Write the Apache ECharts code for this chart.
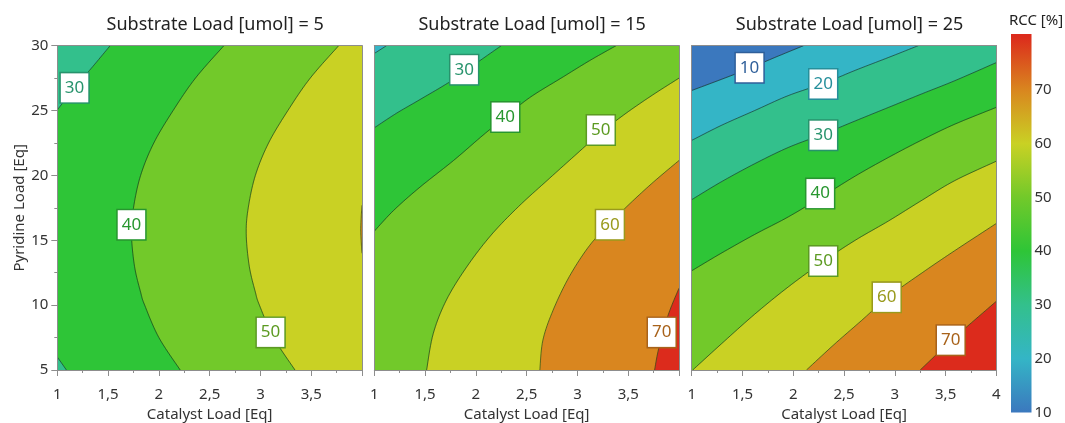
<!DOCTYPE html>
<html><head><meta charset="utf-8">
<script src="https://cdn.jsdelivr.net/npm/echarts@6/dist/echarts.min.js"></script>
<style>html,body{margin:0;padding:0;background:#fff}#c{width:1065px;height:423px}</style>
</head><body><div id="c"></div>
<script>
// ---------------- data ----------------
const panelTitles = ['Substrate Load [umol] = 5', 'Substrate Load [umol] = 15', 'Substrate Load [umol] = 25'];
const xName = 'Catalyst Load [Eq]';
const yName = 'Pyridine Load [Eq]';
const cbName = 'RCC [%]';
const cbTicks = [10, 20, 30, 40, 50, 60, 70];
const cbRange = [10, 80.4];
// colour of band (L-10, L] indexed by L/10 - 1 ; also colour-bar stops at 10..80
const bandColors = ['#3b78be', '#34b5c6', '#33c08c', '#2ec537', '#72c92a', '#c9d124', '#d9861f', '#dc2b1c'];
const labelColors = {10: '#2f5f9a', 20: '#258f9b', 30: '#27936c', 40: '#27962f', 50: '#5c9a22', 60: '#999a1c', 70: '#a8621a'};

// contour lines, [catalyst, pyridine]
const p1_30a = [[1, 25.05], [1.17, 26.75], [1.35, 28.4], [1.52, 30]];
const p1_30b = [[1, 6.0], [1.09, 5]];
const p1_40 = [[2.64, 30], [2.36, 27.5], [2.14, 25], [1.95, 22.5], [1.82, 20], [1.75, 17.5], [1.73, 15.5], [1.76, 13], [1.82, 11], [1.86, 10], [2.0, 7.5], [2.21, 5]];
const p1_50 = [[3.77, 30], [3.49, 27.5], [3.27, 25], [3.08, 22.5], [2.95, 20], [2.88, 17.5], [2.86, 15.5], [2.89, 13], [2.95, 11], [2.99, 10], [3.13, 7.5], [3.34, 5]];
const p1_60 = [[4, 17.7], [3.993, 16.9], [3.988, 15.8], [3.993, 14.8], [4, 14.0]];

const p2_20 = [[1, 29.4], [1.12, 30]];
const p2_30 = [[1, 23.67], [1.22, 24.8], [1.45, 25.85], [1.76, 27.3], [2.04, 28.85], [2.25, 30]];
const p2_40 = [[1, 15.7], [1.19, 17.3], [1.45, 19.1], [1.78, 21.15], [2.07, 23.1], [2.29, 24.5], [2.53, 26.0], [2.86, 27.6], [3.12, 28.85], [3.38, 30]];
const p2_50 = [[1.515, 5], [1.58, 7.8], [1.71, 10.4], [1.91, 12.95], [2.15, 15.4], [2.42, 17.6], [2.70, 19.6], [2.97, 21.5], [3.23, 23.3], [3.48, 24.8], [3.74, 26.2], [4, 27.5]];
const p2_60 = [[2.63, 5], [2.66, 7.3], [2.76, 9.6], [2.92, 12.2], [3.12, 14.6], [3.32, 16.3], [3.52, 17.85], [3.75, 19.5], [4, 21.15]];
const p2_70 = [[3.76, 5], [3.79, 6.3], [3.84, 7.9], [3.91, 9.6], [4, 11.3]];

const p3_10 = [[1, 26.55], [1.29, 27.4], [1.57, 28.25], [1.79, 29.0], [2.10, 30]];
const p3_20 = [[1, 22.7], [1.29, 23.85], [1.62, 25.0], [1.95, 26.15], [2.30, 27.1], [2.61, 28.1], [2.94, 29.1], [3.23, 30]];
const p3_30 = [[1, 18.13], [1.29, 19.5], [1.62, 20.9], [1.95, 22.15], [2.30, 23.2], [2.61, 24.2], [2.94, 25.25], [3.27, 26.3], [3.59, 27.3], [4, 28.7]];
const p3_40 = [[1, 12.65], [1.29, 14.0], [1.62, 15.45], [1.95, 16.8], [2.27, 18.3], [2.61, 19.95], [2.94, 21.4], [3.27, 22.75], [3.59, 23.95], [4, 25.25]];
const p3_50 = [[1.01, 5], [1.29, 7.0], [1.62, 9.3], [1.95, 11.4], [2.30, 13.4], [2.61, 15.0], [2.94, 16.5], [3.27, 18.1], [3.59, 19.6], [4, 21.1]];
const p3_60 = [[2.13, 5], [2.40, 6.95], [2.67, 8.8], [2.93, 10.6], [3.27, 12.5], [3.59, 14.2], [4, 16.3]];
const p3_70 = [[3.25, 5], [3.56, 7.3], [3.80, 8.95], [4, 10.3]];

// contour labels [x, y, level]
const p1Labels = [[1.17, 26.75, 30], [1.73, 16.2, 40], [3.10, 7.9, 50]];
const p2Labels = [[1.885, 28.15, 30], [2.29, 24.5, 40], [3.23, 23.5, 50], [3.32, 16.2, 60], [3.83, 7.9, 70]];
const p3Labels = [[1.57, 28.3, 10], [2.295, 27.05, 20], [2.295, 23.1, 30], [2.265, 18.6, 40], [2.295, 13.4, 50], [2.92, 10.6, 60], [3.55, 7.3, 70]];

// location of the highest response in each panel
const p1High = [3.996, 15.8];
const p2High = [3.98, 5.1];
const p3High = [3.98, 5.1];

// ---------------- build ----------------
const X0 = 1, X1 = 4, Y0 = 5, Y1 = 30;
const panels = [
  {lines: [[30, p1_30a], [30, p1_30b], [40, p1_40], [50, p1_50], [60, p1_60]], labels: p1Labels, high: p1High},
  {lines: [[20, p2_20], [30, p2_30], [40, p2_40], [50, p2_50], [60, p2_60], [70, p2_70]], labels: p2Labels, high: p2High},
  {lines: [[10, p3_10], [20, p3_20], [30, p3_30], [40, p3_40], [50, p3_50], [60, p3_60], [70, p3_70]], labels: p3Labels, high: p3High}
];

function edgeT(p) {
  const w = X1 - X0, h = Y1 - Y0, x = p[0], y = p[1];
  const d = [Math.abs(y - Y0) / h, Math.abs(x - X1) / w, Math.abs(y - Y1) / h, Math.abs(x - X0) / w];
  let k = 0; for (let i = 1; i < 4; i++) if (d[i] < d[k]) k = i;
  if (k === 0) return (x - X0) / w;
  if (k === 1) return 1 + (y - Y0) / h;
  if (k === 2) return 2 + (X1 - x) / w;
  return 3 + (Y1 - y) / h;
}
const corners = [[X0, Y0], [X1, Y0], [X1, Y1], [X0, Y1]];
function cornersVia(pts, forward) {
  const te = edgeT(pts[pts.length - 1]), ts = edgeT(pts[0]);
  const span = forward ? (ts - te + 4) % 4 : (te - ts + 4) % 4;
  const cs = [];
  for (let k = 0; k < 4; k++) {
    const dk = forward ? (k - te + 4) % 4 : (te - k + 4) % 4;
    if (dk > 1e-9 && dk < span) cs.push([dk, corners[k]]);
  }
  cs.sort((a, b) => a[0] - b[0]);
  return cs.map(c => c[1]);
}
function inPoly(pt, poly) {
  let inside = false;
  for (let i = 0, j = poly.length - 1; i < poly.length; j = i++) {
    const xi = poly[i][0], yi = poly[i][1], xj = poly[j][0], yj = poly[j][1];
    if (((yi > pt[1]) !== (yj > pt[1])) && (pt[0] < (xj - xi) * (pt[1] - yi) / (yj - yi) + xi)) inside = !inside;
  }
  return inside;
}
function buildItems(panel) {
  const maxLevel = Math.max.apply(null, panel.lines.map(l => l[0]));
  const out = [{kind: 'fill', pts: [], corners: corners.slice(), color: bandColors[maxLevel / 10]}];
  const sorted = panel.lines.slice().sort((a, b) => b[0] - a[0]);
  sorted.forEach(([lev, pts]) => {
    const ca = cornersVia(pts, true), cb = cornersVia(pts, false);
    const low = inPoly(panel.high, pts.concat(ca)) ? cb : ca;
    out.push({kind: 'fill', pts: pts, corners: low, color: bandColors[lev / 10 - 1]});
  });
  panel.lines.forEach(([lev, pts]) => out.push({kind: 'line', pts: pts}));
  return out;
}
// Catmull-Rom smoothing of a pixel polyline (rendering only, like smooth:true)
function smoothPx(p) {
  const n = p.length;
  if (n < 3) return p;
  const out = [], S = 10;
  for (let i = 0; i < n - 1; i++) {
    const p0 = p[Math.max(i - 1, 0)], p1 = p[i], p2 = p[i + 1], p3 = p[Math.min(i + 2, n - 1)];
    for (let s = 0; s < S; s++) {
      const t = s / S, t2 = t * t, t3 = t2 * t;
      const f = k => 0.5 * ((2 * p1[k]) + (-p0[k] + p2[k]) * t + (2 * p0[k] - 5 * p1[k] + 4 * p2[k] - p3[k]) * t2 + (-p0[k] + 3 * p1[k] - 3 * p2[k] + p3[k]) * t3);
      out.push([f(0), f(1)]);
    }
  }
  out.push(p[n - 1]);
  return out;
}

const FONT = "'Noto Sans', 'Open Sans', sans-serif";
const gridLefts = [57.3, 374.3, 691.7];
const gridW = 304.7, gridTop = 45.7, gridH = 324.3;
const axisCol = '#8d8d8d';
const fmtX = v => String(v).replace('.', ',');

const grids = [], xAxes = [], yAxes = [], series = [], titles = [];
panels.forEach((panel, i) => {
  grids.push({left: gridLefts[i], top: gridTop, width: gridW, height: gridH, containLabel: false, outerBoundsMode: 'none'});
  xAxes.push({
    gridIndex: i, type: 'value', min: X0, max: X1, interval: 0.5, z: 10,
    axisLine: {show: true, onZero: false, lineStyle: {color: axisCol, width: 1}},
    axisTick: {show: true, length: 6, lineStyle: {color: axisCol}},
    minorTick: {show: true, splitNumber: 2, length: 3, lineStyle: {color: axisCol}},
    splitLine: {show: false},
    axisLabel: {fontSize: 15, color: '#333', margin: 17, fontFamily: FONT, formatter: fmtX, showMaxLabel: i === 2},
    name: xName, nameLocation: 'middle', nameGap: 37,
    nameTextStyle: {fontSize: 15, color: '#333', fontFamily: FONT}
  });
  xAxes.push({gridIndex: i, type: 'value', min: X0, max: X1, position: 'top', z: 10,
    axisLine: {show: true, onZero: false, lineStyle: {color: axisCol}}, axisTick: {show: false}, axisLabel: {show: false}, splitLine: {show: false}});
  yAxes.push({
    gridIndex: i, type: 'value', min: Y0, max: Y1, interval: 5, z: 10,
    axisLine: {show: true, onZero: false, lineStyle: {color: axisCol, width: 1}},
    axisTick: {show: i === 0, length: 6, lineStyle: {color: axisCol}},
    minorTick: {show: i === 0, splitNumber: 2, length: 3, lineStyle: {color: axisCol}},
    splitLine: {show: false},
    axisLabel: {show: i === 0, fontSize: 15, color: '#333', margin: 9, fontFamily: FONT},
    name: i === 0 ? yName : '', nameLocation: 'middle', nameGap: 27,
    nameTextStyle: {fontSize: 15, color: '#333', fontFamily: FONT}
  });
  yAxes.push({gridIndex: i, type: 'value', min: Y0, max: Y1, position: 'right', z: 10,
    axisLine: {show: true, onZero: false, lineStyle: {color: axisCol}}, axisTick: {show: false}, axisLabel: {show: false}, splitLine: {show: false}});
  const xi = 2 * i, yi = 2 * i;
  const items = buildItems(panel);
  series.push({
    type: 'custom', xAxisIndex: xi, yAxisIndex: yi, silent: true, clip: true, z: 1,
    data: items.map((p, k) => [2.5, 17.5, k]), encode: {x: 0, y: 1},
    renderItem: (params, api) => {
      const it = items[params.dataIndex];
      const curve = smoothPx(it.pts.map(q => api.coord(q)));
      if (it.kind === 'line') {
        return {type: 'polyline', shape: {points: curve}, style: {fill: null, stroke: 'rgba(25,45,25,0.62)', lineWidth: 1}};
      }
      const pts = curve.concat(it.corners.map(q => api.coord(q)));
      return {type: 'polygon', shape: {points: pts}, style: {fill: it.color, stroke: it.color, lineWidth: 0.5}};
    }
  });
  series.push({
    type: 'scatter', xAxisIndex: xi, yAxisIndex: yi, silent: true, z: 6, symbolSize: 1,
    itemStyle: {color: 'rgba(0,0,0,0)', opacity: 1},
    data: panel.labels.map(l => ({
      value: l,
      label: {color: labelColors[l[2]], borderColor: labelColors[l[2]]}
    })),
    label: {show: true, position: 'inside', formatter: p => String(p.value[2]), fontSize: 17, lineHeight: 24, fontFamily: FONT,
      backgroundColor: '#fff', borderWidth: 1.5, padding: [3, 4, 2, 4]}
  });
  titles.push({text: panelTitles[i], left: gridLefts[i] + gridW / 2 + 5.5, top: 16, textAlign: 'center', padding: 0,
    textStyle: {fontSize: 18, fontWeight: 'normal', color: '#222', fontFamily: FONT}});
});

// colour bar
grids.push({left: 1011, top: 34, width: 20.5, height: 378.5, containLabel: false, outerBoundsMode: 'none'});
xAxes.push({gridIndex: 3, type: 'value', min: 0, max: 1, show: false});
yAxes.push({gridIndex: 3, type: 'value', min: cbRange[0], max: cbRange[1], interval: 10, position: 'right',
  axisLine: {show: false}, axisTick: {show: false}, splitLine: {show: false},
  axisLabel: {fontSize: 15, color: '#333', margin: 3, fontFamily: FONT,
    formatter: v => (cbTicks.indexOf(Math.round(v * 10) / 10) >= 0 ? String(v) : '')}});
const cbStops = bandColors.map((c, k) => ({offset: ((k + 1) * 10 - cbRange[0]) / (cbRange[1] - cbRange[0]), color: c}));
series.push({
  type: 'custom', xAxisIndex: 6, yAxisIndex: 6, silent: true, data: [[0.5, 40]],
  renderItem: (params, api) => {
    const a = api.coord([0, cbRange[0]]), b = api.coord([1, cbRange[1]]);
    return {type: 'rect', shape: {x: a[0], y: b[1], width: b[0] - a[0], height: a[1] - b[1]},
      style: {fill: new echarts.graphic.LinearGradient(0, 1, 0, 0, cbStops.map(s => ({offset: Math.min(1, s.offset), color: s.color})))}};
  }
});
titles.push({text: cbName, left: 1036, top: 13, textAlign: 'center', padding: 0,
  textStyle: {fontSize: 15, fontWeight: 'normal', color: '#222', fontFamily: FONT}});

const chart = echarts.init(document.getElementById('c'), null, {renderer: 'canvas'});
chart.setOption({animation: false, backgroundColor: '#fff', title: titles, grid: grids, xAxis: xAxes, yAxis: yAxes, series: series});
</script></body></html>
